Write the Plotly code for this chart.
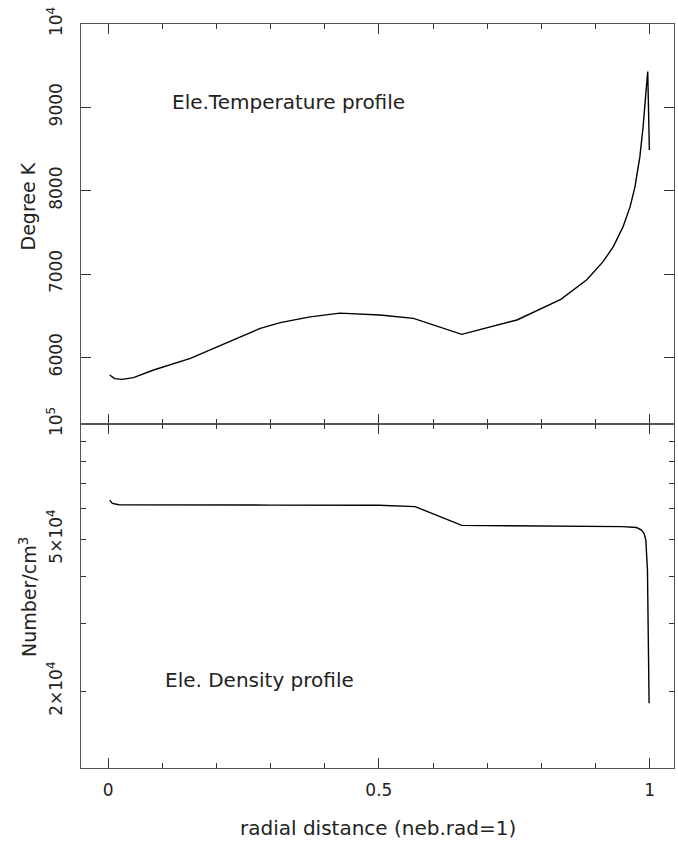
import plotly.graph_objects as go

# ---- data ----
r_temp = [0.003, 0.012, 0.026, 0.047, 0.084, 0.152, 0.195, 0.238, 0.281, 0.318,
          0.373, 0.428, 0.502, 0.564, 0.653, 0.755, 0.836, 0.884, 0.914, 0.933,
          0.951, 0.964, 0.973, 0.982, 0.988, 0.993, 0.9965, 0.9995]
temp = [5788, 5745, 5736, 5756, 5848, 5988, 6108, 6228, 6348, 6416,
        6485, 6530, 6508, 6468, 6276, 6448, 6695, 6930, 7148, 7328,
        7568, 7808, 8048, 8408, 8768, 9168, 9430, 8488]

r_dens = [0.003, 0.008, 0.02, 0.1, 0.3, 0.5, 0.567, 0.653, 0.8, 0.95, 0.976,
          0.985, 0.99, 0.993, 0.996, 0.9975, 0.999]
dens = [63200, 62000, 61500, 61400, 61350, 61300, 60800, 54300, 54100, 53900, 53600,
        52800, 51600, 49700, 41500, 30700, 18600]

x_major = [0, 0.5, 1]
x_major_text = ["0", "0.5", "1"]
t_ticks = [6000, 7000, 8000, 9000, 10000]
t_text = ["6000", "7000", "8000", "9000", "10<sup>4</sup>"]
n_ticks = [20000, 30000, 40000, 50000, 60000, 70000, 80000, 90000, 100000]
n_text = ["2×10<sup>4</sup>", "", "", "5×10<sup>4</sup>", "", "", "", "", "10<sup>5</sup>"]

FONT = "DejaVu Sans"
TXT = "#222222"
LINEC = "#555555"

fig = go.Figure()
fig.add_trace(go.Scatter(x=r_temp, y=temp, mode="lines",
                         line=dict(color="black", width=1.4),
                         xaxis="x", yaxis="y", showlegend=False))
fig.add_trace(go.Scatter(x=r_dens, y=dens, mode="lines",
                         line=dict(color="black", width=1.4),
                         xaxis="x2", yaxis="y2", showlegend=False))

common = dict(showline=True, linecolor=LINEC, linewidth=1.2, mirror="allticks",
              ticks="inside", tickcolor="#333333", tickwidth=1.2,
              showgrid=False, zeroline=False,
              tickfont=dict(family=FONT, size=17, color=TXT))

split = 344 / 744

fig.update_layout(
    width=678, height=843,
    margin=dict(l=81, r=4, t=24, b=75),
    paper_bgcolor="white", plot_bgcolor="white",
    font=dict(family=FONT, color=TXT),
    xaxis=dict(common, domain=[0, 1], anchor="y", range=[-0.05, 1.045],
               tickvals=x_major, ticktext=x_major_text, ticklen=10,
               showticklabels=False, matches="x2",
               minor=dict(dtick=0.1, tick0=0, ticklen=5, ticks="inside",
                          tickcolor="#333333", tickwidth=1.2)),
    yaxis=dict(common, domain=[split, 1], anchor="x", range=[5200, 10000],
               tickvals=t_ticks, ticktext=t_text, ticklen=10, tickangle=-90,
               ticklabelstandoff=11),
    xaxis2=dict(common, domain=[0, 1], anchor="y2", range=[-0.05, 1.045],
                tickvals=x_major, ticktext=x_major_text, ticklen=10,
                ticklabelstandoff=6,
                minor=dict(dtick=0.1, tick0=0, ticklen=5, ticks="inside",
                           tickcolor="#333333", tickwidth=1.2)),
    yaxis2=dict(common, domain=[0, split], anchor="x2", type="log", range=[4.1, 5],
                tickvals=n_ticks, ticktext=n_text, ticklen=5, tickangle=-90,
                ticklabelstandoff=11),
)

fig.add_annotation(text="Ele.Temperature profile", x=0.115, y=9064, xref="x", yref="y",
                   xanchor="left", yanchor="middle", showarrow=False,
                   font=dict(family=FONT, size=20, color=TXT))
fig.add_annotation(text="Ele. Density profile", x=0.102, y=4.33, xref="x2", yref="y2",
                   xanchor="left", yanchor="middle", showarrow=False,
                   font=dict(family=FONT, size=20, color=TXT))
fig.add_annotation(text="Degree K", x=(27.5 - 81) / 593, y=(768 - 207) / 744,
                   xref="paper", yref="paper", textangle=-90, showarrow=False,
                   xanchor="center", yanchor="middle",
                   font=dict(family=FONT, size=19, color=TXT))
fig.add_annotation(text="Number/cm<sup>3</sup>", x=(28 - 81) / 593, y=(768 - 597) / 744,
                   xref="paper", yref="paper", textangle=-90, showarrow=False,
                   xanchor="center", yanchor="middle",
                   font=dict(family=FONT, size=19, color=TXT))
fig.add_annotation(text="radial distance (neb.rad=1)", x=(378 - 81) / 593,
                   y=-(828 - 768) / 744, xref="paper", yref="paper",
                   showarrow=False, xanchor="center", yanchor="middle",
                   font=dict(family=FONT, size=20, color=TXT))

fig.write_html("out.html")
